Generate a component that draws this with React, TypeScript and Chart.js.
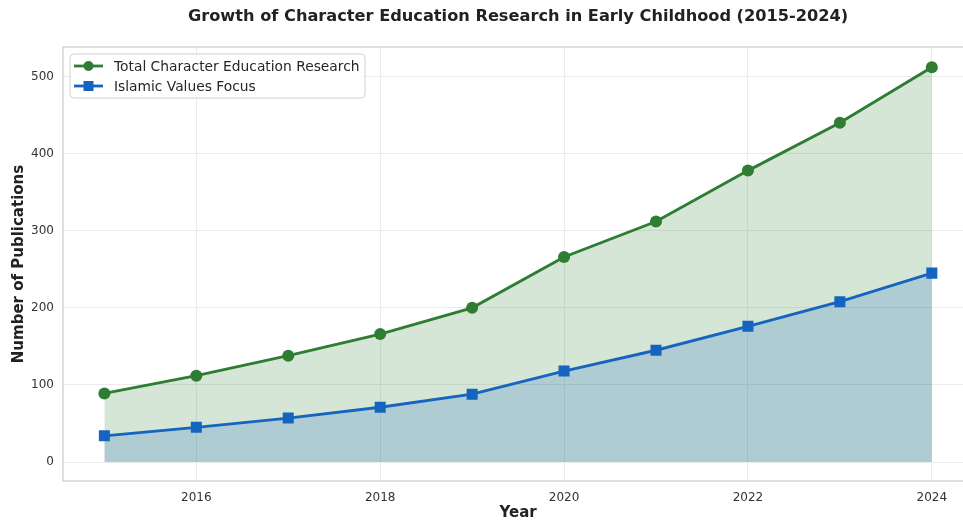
import React, { useEffect, useRef } from "react";
import { Chart, registerables } from "chart.js";

Chart.register(...registerables);

const chartTitle = "Growth of Character Education Research in Early Childhood (2015-2024)";
const years = [2015, 2016, 2017, 2018, 2019, 2020, 2021, 2022, 2023, 2024];
const totalResearch = [89, 112, 138, 166, 200, 266, 312, 378, 440, 512];
const islamicFocus = [34, 45, 57, 71, 88, 118, 145, 176, 208, 245];
const xTicks = [2016, 2018, 2020, 2022, 2024];
const yTicks = [0, 100, 200, 300, 400, 500];
const seriesLabels = ["Total Character Education Research", "Islamic Values Focus"];
const xTitle = "Year";
const yTitle = "Number of Publications";

const GREEN = "#2E7D32";
const BLUE = "#1565C0";
const FONT = "'DejaVu Sans', sans-serif";

const decorPlugin = {
  id: "decor",
  afterDraw(chart: any) {
    const { ctx, chartArea } = chart;
    ctx.save();
    // frame
    ctx.strokeStyle = "#cccccc";
    ctx.lineWidth = 1.25;
    ctx.strokeRect(chartArea.left, chartArea.top, chartArea.right - chartArea.left, chartArea.bottom - chartArea.top);
    // title
    ctx.fillStyle = "#222222";
    ctx.font = `bold 16.2px ${FONT}`;
    ctx.textAlign = "center";
    ctx.textBaseline = "middle";
    ctx.fillText(chartTitle, (chartArea.left + chartArea.right) / 2, 17);
    // legend
    const bx = 70, by = 54, bw = 295, bh = 44, r = 4;
    ctx.beginPath();
    ctx.moveTo(bx + r, by);
    ctx.lineTo(bx + bw - r, by);
    ctx.quadraticCurveTo(bx + bw, by, bx + bw, by + r);
    ctx.lineTo(bx + bw, by + bh - r);
    ctx.quadraticCurveTo(bx + bw, by + bh, bx + bw - r, by + bh);
    ctx.lineTo(bx + r, by + bh);
    ctx.quadraticCurveTo(bx, by + bh, bx, by + bh - r);
    ctx.lineTo(bx, by + r);
    ctx.quadraticCurveTo(bx, by, bx + r, by);
    ctx.closePath();
    ctx.fillStyle = "rgba(255,255,255,0.85)";
    ctx.fill();
    ctx.strokeStyle = "#d0d0d0";
    ctx.lineWidth = 1;
    ctx.stroke();
    const rows = [
      { y: 66, color: GREEN, shape: "circle", label: seriesLabels[0] },
      { y: 86, color: BLUE, shape: "square", label: seriesLabels[1] },
    ];
    rows.forEach((row) => {
      ctx.strokeStyle = row.color;
      ctx.fillStyle = row.color;
      ctx.lineWidth = 2.8;
      ctx.beginPath();
      ctx.moveTo(74, row.y);
      ctx.lineTo(103, row.y);
      ctx.stroke();
      if (row.shape === "circle") {
        ctx.beginPath();
        ctx.arc(88.5, row.y, 5, 0, Math.PI * 2);
        ctx.fill();
      } else {
        ctx.fillRect(83.5, row.y - 5, 10, 10);
      }
      ctx.fillStyle = "#262626";
      ctx.font = `13.8px ${FONT}`;
      ctx.textAlign = "left";
      ctx.textBaseline = "middle";
      ctx.fillText(row.label, 114, row.y + 1);
    });
    ctx.restore();
  },
};

export default function App() {
  const canvasRef = useRef<HTMLCanvasElement | null>(null);

  useEffect(() => {
    document.body.style.margin = "0";
    Chart.defaults.font.family = FONT;
    const canvas = canvasRef.current;
    if (!canvas) return;
    const chart = new Chart(canvas, {
      type: "line",
      data: {
        datasets: [
          {
            label: seriesLabels[0],
            data: years.map((x, i) => ({ x, y: totalResearch[i] })),
            borderColor: GREEN,
            backgroundColor: "rgba(46,125,50,0.2)",
            pointBackgroundColor: GREEN,
            pointBorderColor: GREEN,
            pointStyle: "circle",
            pointRadius: 6,
            pointBorderWidth: 0,
            borderWidth: 2.9,
            fill: "origin",
            tension: 0,
            order: 1,
          },
          {
            label: seriesLabels[1],
            data: years.map((x, i) => ({ x, y: islamicFocus[i] })),
            borderColor: BLUE,
            backgroundColor: "rgba(21,101,192,0.2)",
            pointBackgroundColor: BLUE,
            pointBorderColor: BLUE,
            pointStyle: "rect",
            pointRadius: 7.8,
            pointBorderWidth: 0,
            borderWidth: 2.9,
            fill: "origin",
            tension: 0,
            order: 0,
          },
        ],
      },
      options: {
        responsive: false,
        animation: false,
        devicePixelRatio: 1,
        layout: { padding: { top: 47, left: 0, right: 0, bottom: 0 } },
        plugins: {
          legend: { display: false },
          title: { display: false },
          tooltip: { enabled: false },
        },
        scales: {
          x: {
            type: "linear",
            min: 2014.55,
            max: 2024.45,
            afterBuildTicks: (s: any) => {
              s.ticks = xTicks.map((v) => ({ value: v }));
            },
            afterFit: (s: any) => {
              s.height = 41;
              s.paddingLeft = 0;
              s.paddingRight = 0;
            },
            ticks: {
              callback: (v: any) => String(v),
              font: { size: 12 },
              color: "#333333",
              padding: 10,
              maxRotation: 0,
            },
            grid: { color: "#ebebeb", drawTicks: false, lineWidth: 1 },
            border: { display: false },
            title: {
              display: true,
              text: xTitle,
              font: { size: 15, weight: "bold" },
              color: "#222222",
              padding: { top: 0, bottom: 0 },
            },
          },
          y: {
            type: "linear",
            min: -24.6,
            max: 538.3,
            afterBuildTicks: (s: any) => {
              s.ticks = yTicks.map((v) => ({ value: v }));
            },
            afterFit: (s: any) => {
              s.width = 63;
              s.paddingTop = 0;
              s.paddingBottom = 0;
            },
            ticks: {
              callback: (v: any) => String(v),
              font: { size: 12 },
              color: "#333333",
              padding: 9,
            },
            grid: { color: "#ebebeb", drawTicks: false, lineWidth: 1 },
            border: { display: false },
            title: {
              display: true,
              text: yTitle,
              font: { size: 15, weight: "bold" },
              color: "#222222",
              padding: { top: 10, bottom: 0 },
            },
          },
        },
      } as any,
      plugins: [decorPlugin],
    });
    return () => chart.destroy();
  }, []);

  return (
    <div style={{ width: 963, height: 522, overflow: "hidden", background: "#ffffff" }}>
      <canvas ref={canvasRef} width={981} height={522} style={{ display: "block" }} />
    </div>
  );
}
